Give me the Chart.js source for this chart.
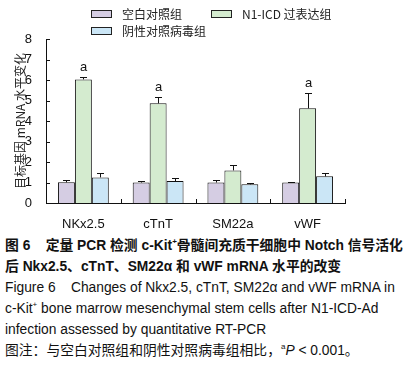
<!DOCTYPE html>
<html>
<head>
<meta charset="utf-8">
<title>Figure 6</title>
<script src="https://cdn.jsdelivr.net/npm/chart.js"></script>
<style>
  body { margin: 0; background: #fff; font-family: Arial, "Liberation Sans", "Noto Sans CJK SC", sans-serif; }
  #wrap { position: relative; width: 413px; height: 373px; overflow: hidden; }
  #plot { position: absolute; left: 0; top: 0; width: 413px; height: 232px; }
  .lg { position: absolute; font-size: 12px; font-family: "Noto Sans CJK SC", sans-serif; line-height: 14px; color: #222; }
  .lg i { display: inline-block; width: 19px; height: 6px; border: 1px solid #222; vertical-align: 1px; margin-right: 10px; }
  #cap { position: absolute; left: 5px; top: 235px; width: 408px; font-size: 13.8px; line-height: 21px; color: #111; white-space: nowrap; }
  #cap .b { font-weight: bold; }
  #cap sup { font-size: 8px; line-height: 0; vertical-align: 6px; }
</style>
</head>
<body>
<div id="wrap">
  <div id="plot"><canvas id="c" width="413" height="232"></canvas></div>
  <div class="lg" style="left:91px;top:7px"><i style="background:#D5CDE3"></i>空白对照组</div>
  <div class="lg" style="left:211px;top:7px"><i style="background:#D4EBCF"></i>N1-ICD 过表达组</div>
  <div class="lg" style="left:91px;top:24px"><i style="background:#CBE6F6"></i>阴性对照病毒组</div>
  <div id="cap">
    <div class="b">图 6&nbsp;&nbsp;&nbsp; 定量 PCR 检测 c-Kit<sup>+</sup>骨髓间充质干细胞中 Notch 信号活化</div>
    <div class="b">后 Nkx2.5、cTnT、SM22α 和 vWF mRNA 水平的改变</div>
    <div>Figure 6&nbsp;&nbsp;&nbsp; Changes of Nkx2.5, cTnT, SM22α and vWF mRNA in</div>
    <div>c-Kit<sup>+</sup> bone marrow mesenchymal stem cells after N1-ICD-Ad</div>
    <div>infection assessed by quantitative RT-PCR</div>
    <div>图注：与空白对照组和阴性对照病毒组相比，<sup>a</sup><i>P</i> &lt; 0.001。</div>
  </div>
</div>
<script>
const genes = ['NKx2.5', 'cTnT', 'SM22a', 'vWF'];
const groupNames = ['空白对照组', 'N1-ICD 过表达组', '阴性对照病毒组'];
const blankVals = [1.01, 1.0, 1.0, 1.0];
const blankErr = [0.09, 0.05, 0.1, 0.03];
const n1icdVals = [6.03, 4.86, 1.59, 4.62];
const n1icdErr = [0.13, 0.33, 0.25, 0.76];
const negVals = [1.25, 1.07, 0.91, 1.30];
const negErr = [0.2, 0.16, 0.08, 0.15];
const sigMarks = ['a', 'a', '', 'a'];
const yTicks = [0, 1, 2, 3, 4, 5, 6, 7, 8];

const errs = [blankErr, n1icdErr, negErr];
const marks = [null, sigMarks, null];

const errorBars = {
  id: 'errorBars',
  afterDatasetsDraw(chart) {
    const ctx = chart.ctx, y = chart.scales.y;
    ctx.save();
    ctx.strokeStyle = '#111';
    ctx.lineWidth = 1;
    chart.data.datasets.forEach((ds, di) => {
      const meta = chart.getDatasetMeta(di);
      meta.data.forEach((bar, i) => {
        const top = ds.data[i] + errs[di][i];
        const x = Math.round(bar.x) + 0.5;
        const y0 = bar.y, y1 = Math.round(y.getPixelForValue(top)) + 0.5;
        ctx.beginPath();
        ctx.moveTo(x, y0); ctx.lineTo(x, y1);
        ctx.moveTo(x - 3.5, y1); ctx.lineTo(x + 3.5, y1);
        ctx.stroke();
        if (marks[di] && marks[di][i]) {
          ctx.fillStyle = '#111';
          ctx.font = '13px Arial, "Liberation Sans"';
          ctx.textAlign = 'center';
          ctx.textBaseline = 'bottom';
          ctx.fillText(marks[di][i], x, y1 - 4);
        }
      });
    });
    // inward tick marks on both axes
    const area = chart.chartArea;
    ctx.beginPath();
    yTicks.forEach(v => {
      const py = Math.round(y.getPixelForValue(v)) + 0.5;
      ctx.moveTo(area.left, py); ctx.lineTo(area.left + 4, py);
    });
    const step = (area.right - area.left) / genes.length;
    for (let k = 1; k <= genes.length; k++) {
      const px = Math.round(area.left + step * k) + 0.5;
      ctx.moveTo(px, area.bottom); ctx.lineTo(px, area.bottom - 4);
    }
    ctx.stroke();
    ctx.restore();
  }
};

const barStyle = { borderColor: '#111', borderWidth: 1, barPercentage: 1.0, categoryPercentage: 0.68 };

new Chart(document.getElementById('c'), {
  type: 'bar',
  data: {
    labels: genes,
    datasets: [
      Object.assign({ label: groupNames[0], data: blankVals, backgroundColor: '#D5CDE3' }, barStyle),
      Object.assign({ label: groupNames[1], data: n1icdVals, backgroundColor: '#D4EBCF' }, barStyle),
      Object.assign({ label: groupNames[2], data: negVals, backgroundColor: '#CBE6F6' }, barStyle)
    ]
  },
  options: {
    responsive: false,
    animation: false,
    layout: { padding: { top: 39, right: 68, bottom: 0, left: 0 } },
    plugins: { legend: { display: false }, tooltip: { enabled: false } },
    scales: {
      x: {
        grid: { display: false },
        border: { display: true, color: '#111', width: 1 },
        ticks: { color: '#111', padding: 6, font: { size: 13, family: 'Arial, "Liberation Sans"' } },
        afterFit(s) { s.height = 29; }
      },
      y: {
        min: 0, max: 8,
        afterBuildTicks(s) { s.ticks = yTicks.map(v => ({ value: v })); },
        grid: { display: false },
        border: { display: true, color: '#111', width: 1 },
        ticks: { color: '#111', padding: 6, font: { size: 13, family: 'Arial, "Liberation Sans"' } },
        title: {
          display: true,
          text: '目标基因 mRNA 水平变化',
          color: '#222',
          padding: { top: 13, bottom: 0 },
          font: { size: 12, family: '"Noto Sans CJK SC", sans-serif' }
        },
        afterFit(s) { s.width = 46; }
      }
    }
  },
  plugins: [errorBars]
});
</script>
</body>
</html>
